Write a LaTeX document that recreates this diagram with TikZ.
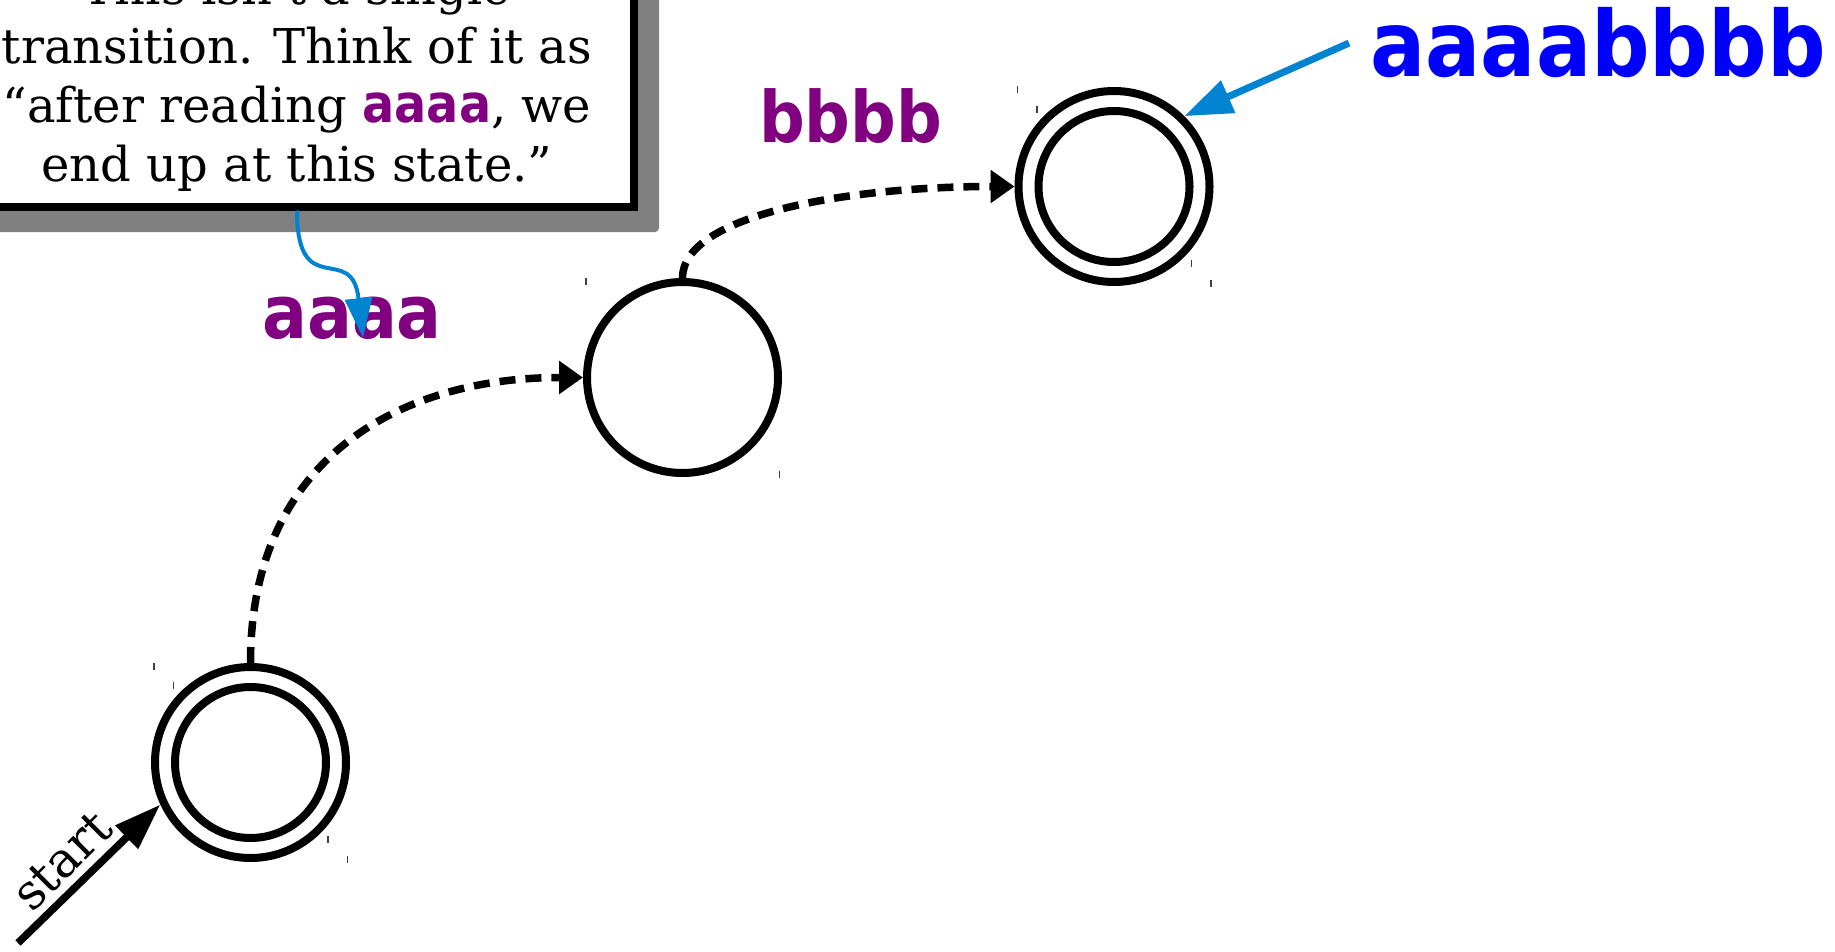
\documentclass[tikz,border=0pt]{standalone}
\usepackage{fontspec}
\setmainfont{DejaVu Serif}
\newfontfamily\hlfont{DejaVu Sans}[FakeStretch=0.9]
\usetikzlibrary{arrows.meta,calc}
\definecolor{hlpurple}{RGB}{128,0,128}
\definecolor{arrowblue}{RGB}{0,132,209}
\definecolor{shadowgray}{RGB}{128,128,128}
\newcommand{\hlw}[1]{{\fontsize{53}{59}\selectfont\hlfont\bfseries\color{hlpurple}#1}}
\begin{document}
\begin{tikzpicture}[x=1pt,y=-1pt,
  state/.style={circle,draw,line width=8pt,minimum size=191pt,inner sep=0pt},
  innerring/.style={line width=8pt},
  tickmark/.style={line width=1.4pt,draw=black!75},
  trans/.style={line width=7.5pt,dash pattern=on 16pt off 10pt,-{Triangle[length=24pt,width=32pt]}},
  lbl/.style={text=hlpurple,inner sep=0pt,anchor=base},
  calloutbox/.style={draw,line width=8pt,fill=white,minimum width=674pt,minimum height=253pt,align=center,inner sep=0pt,font=\fontsize{48}{59}\selectfont},
  callarrow/.style={line width=4pt,draw=arrowblue,-{Triangle[length=40pt,width=27pt]}},
  bluearrow/.style={line width=7pt,draw=arrowblue,-{Triangle[length=48pt,width=34pt]}},
  startarrow/.style={line width=7.5pt,-{Triangle[length=47pt,width=31pt]}}
]
\useasboundingbox (0,0) rectangle (1835,952);
\fill[white] (0,0) rectangle (1835,952);
\clip (0,0) rectangle (1835,952);

% callout with shadow
\fill[shadowgray, rounded corners=4pt] (-22,-34) rectangle (659,232);
\node[calloutbox] (callout) at (297,80) {This isn’t a single\\transition. Think of it as\\“after reading \hlw{aaaa}, we\\end up at this state.”};

% states
\node[state] (q0) at (250.5,762.5) {};
\node[state] (q1) at (682.5,377.5) {};
\node[state] (q2) at (1114,186.5) {};
\draw[innerring] (q0) circle[radius=75.5pt];
\draw[innerring] (q2) circle[radius=75.5pt];

% tick marks at corners
\foreach \c/\r in {q0/99,q0/79.5,q1/99,q2/99,q2/79.5} {
  \draw[tickmark] ($(\c)+(-\r+2.5,-\r-1)$) -- ++(0,7);
  \draw[tickmark] ($(\c)+(\r-2,\r-6)$) -- ++(0,7);
}

% labels
\node[lbl,font=\fontsize{74}{80}\selectfont\hlfont\bfseries] (lblA) at (352,338) {aaaa};
\node[lbl,font=\fontsize{71}{80}\selectfont\hlfont\bfseries] (lblB) at (850.5,143) {bbbb};
\node[font=\fontsize{91}{96}\selectfont\hlfont\bfseries,text=blue,inner sep=0pt,inner xsep=21pt,anchor=base west] (lblAB) at (1349,77) {aaaabbbb};

% transitions
\draw[trans] (q0.north) .. controls +(0,-203) and +(-185,0) .. (q1.west);
\draw[trans] (q1.north) .. controls +(0,-63.5) and +(-165,0) .. (q2.west);

% start arrow
\coordinate (s0) at (18,943);
\draw[startarrow] (s0) -- (q0.205);
\node[rotate=45,font=\fontsize{49}{60}\selectfont,inner sep=0pt] (startlbl) at (62,861) {start};

% blue arrows
\draw[bluearrow] (lblAB.west) -- (q2.45);
\draw[callarrow] (callout.south) .. controls +(0,93) and +(-11,-98) .. ([xshift=11pt]lblA.base);
\end{tikzpicture}
\end{document}
